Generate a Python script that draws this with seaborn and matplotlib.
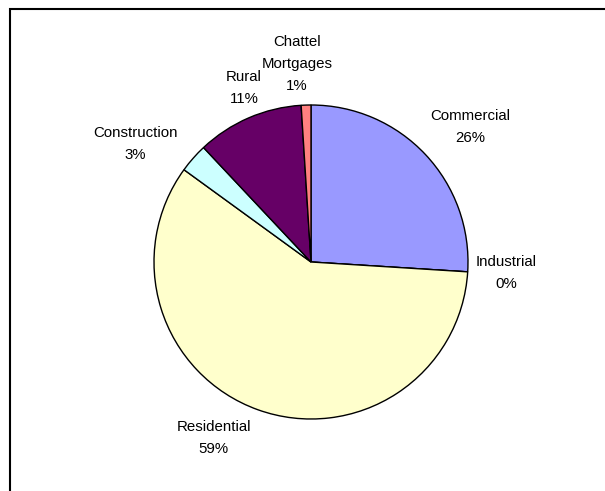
import numpy as np
import pandas as pd
import seaborn as sns
import matplotlib
matplotlib.use("Agg")
import matplotlib.pyplot as plt
from matplotlib.patches import Rectangle

# Loan portfolio by category (percent of total)
categories = ["Commercial", "Industrial", "Residential", "Construction", "Rural", "Chattel\nMortgages"]
shares = [26, 0, 59, 3, 11, 1]
colors = ["#9999FF", "#993366", "#FFFFCC", "#CCFFFF", "#660066", "#FF8080"]

# label placement: (angle nudge in degrees, radial distance in radii)
label_nudge = [-2.8, 0.4, -9.1, 7.5, -2.4, 2.2]
label_dist = [1.33, 1.244, 1.28, 1.35, 1.19, 1.267]

df = pd.DataFrame({"category": categories, "share": shares, "color": colors})

sns.set_theme(style="white")
plt.rcParams["font.family"] = ["Liberation Sans", "DejaVu Sans"]

W, H = 605, 491
fig = plt.figure(figsize=(W / 100, H / 100), dpi=100)
ax = fig.add_axes([0, 0, 1, 1])

cx, cy, R = 311, H - 262, 157

wedges, _ = ax.pie(
    df["share"], colors=df["color"], startangle=90, counterclock=False,
    center=(cx, cy), radius=R, frame=True,
    wedgeprops=dict(edgecolor="black", linewidth=1.0),
)
ax.set_xlim(0, W)
ax.set_ylim(0, H)
ax.set_axis_off()

for w, name, val, nud, dist in zip(wedges, df["category"], df["share"], label_nudge, label_dist):
    mid = np.deg2rad((w.theta1 + w.theta2) / 2 + nud)
    x = cx + R * dist * np.cos(mid)
    y = cy + R * dist * np.sin(mid)
    ax.text(x, y, f"{name}\n{val}%", ha="center", va="center",
            fontsize=10.8, color="black", linespacing=1.73)

# chart frame (extends beyond the right and bottom of the canvas)
fig.add_artist(Rectangle((10 / W, -0.2), 1.5, 1.2 - 9 / H,
                         transform=fig.transFigure, fill=False,
                         edgecolor="black", linewidth=1.5, clip_on=False))

fig.savefig("out.png", dpi=100)
